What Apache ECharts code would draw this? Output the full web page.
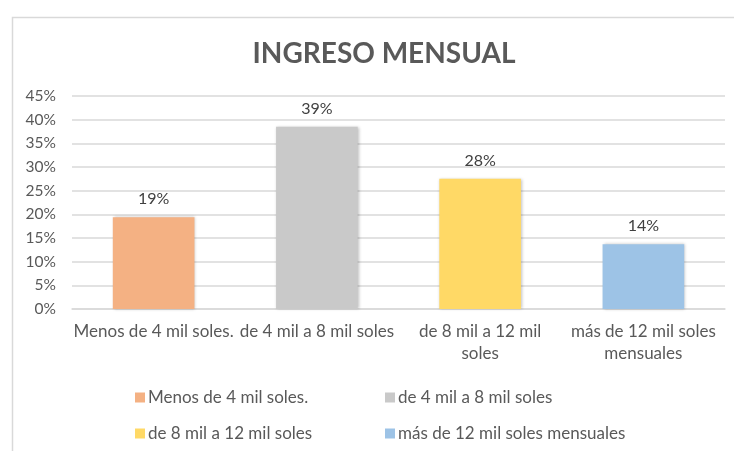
<!DOCTYPE html>
<html>
<head>
<meta charset="utf-8">
<script src="https://cdn.jsdelivr.net/npm/echarts@6/dist/echarts.min.js"></script>
<style>
html,body{margin:0;padding:0;background:#fff;}
#chart{width:734px;height:451px;}
</style>
</head>
<body>
<div id="chart"></div>
<script>
var categories = ['Menos de 4 mil soles.', 'de 4 mil a 8 mil soles', 'de 8 mil a 12 mil soles', 'más de 12 mil soles mensuales'];
var axisLabels = ['Menos de 4 mil soles.', 'de 4 mil a 8 mil soles', 'de 8 mil a 12 mil\nsoles', 'más de 12 mil soles\nmensuales'];
var values = [0.194, 0.385, 0.275, 0.137];
var colors = ['#F4B183', '#C9C9C9', '#FFD966', '#9DC3E6'];
var yTicks = [0, 0.05, 0.10, 0.15, 0.20, 0.25, 0.30, 0.35, 0.40, 0.45];

var FONT = 'Lato, "Open Sans", sans-serif';
var chart = echarts.init(document.getElementById('chart'));

var series = categories.map(function (name, i) {
  return {
    name: name,
    type: 'bar',
    stack: 'total',
    barWidth: '50%',
    data: values.map(function (v, j) { return j === i ? v : '-'; }),
    itemStyle: {
      color: colors[i],
      shadowBlur: 3,
      shadowColor: 'rgba(0,0,0,0.25)',
      shadowOffsetX: 1,
      shadowOffsetY: 0
    },
    label: {
      show: true,
      position: 'top',
      distance: 10,
      color: '#404040',
      fontFamily: FONT,
      fontSize: 16,
      formatter: function (p) { return Math.round(p.value * 100) + '%'; }
    }
  };
});

function legendAt(idx, left, top) {
  return {
    data: [categories[idx]],
    left: left,
    top: top,
    itemWidth: 10,
    itemHeight: 10,
    icon: 'rect',
    itemGap: 0,
    textStyle: { color: '#595959', fontFamily: FONT, fontSize: 17, padding: [0, 0, 0, -2] },
    selectedMode: false
  };
}

chart.setOption({
  backgroundColor: '#fff',
  animation: false,
  graphic: [{
    type: 'rect',
    left: 10,
    top: 15,
    shape: { width: 740, height: 460 },
    style: { fill: 'none', stroke: '#D9D9D9', lineWidth: 1.5 },
    silent: true
  }],
  title: {
    text: 'INGRESO MENSUAL',
    left: 379,
    textAlign: 'center',
    top: 35,
    textStyle: { color: '#595959', fontFamily: FONT, fontSize: 28, fontWeight: 'bold' }
  },
  legend: [
    legendAt(0, 130, 384),
    legendAt(1, 380, 384),
    legendAt(2, 130, 420),
    legendAt(3, 380, 420)
  ],
  grid: { left: 72, right: 9, top: 96, bottom: 142 },
  xAxis: {
    type: 'category',
    data: categories,
    axisTick: { show: false },
    axisLine: { lineStyle: { color: '#D9D9D9', width: 1.5 } },
    axisLabel: {
      interval: 0,
      margin: 12,
      color: '#595959',
      fontFamily: FONT,
      fontSize: 17,
      lineHeight: 22,
      formatter: function (v, i) { return axisLabels[i]; }
    }
  },
  yAxis: {
    type: 'value',
    min: yTicks[0],
    max: yTicks[yTicks.length - 1],
    interval: 0.05,
    axisLine: { show: false },
    axisTick: { show: false },
    splitLine: { lineStyle: { color: '#D9D9D9', width: 1.5 } },
    axisLabel: {
      margin: 16,
      color: '#595959',
      fontFamily: FONT,
      fontSize: 15.5,
      formatter: function (v) { return Math.round(v * 100) + '%'; }
    }
  },
  series: series
});
</script>
</body>
</html>
